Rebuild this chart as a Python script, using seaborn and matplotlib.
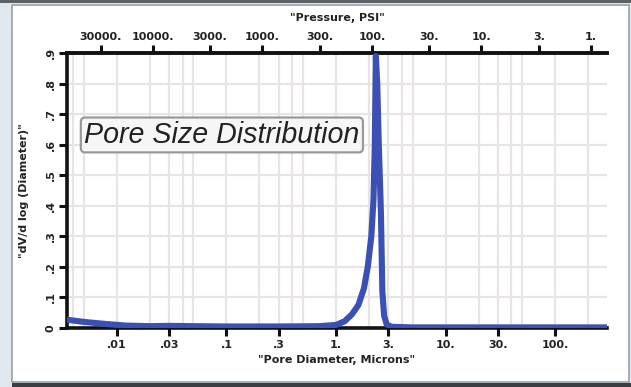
import numpy as np
import pandas as pd
import matplotlib
matplotlib.use("Agg")
import matplotlib.pyplot as plt
from matplotlib.patches import Rectangle
import seaborn as sns

# Pore size distribution (mercury intrusion)
pore_diameter_um = [0.0035, 0.005, 0.008, 0.012, 0.02, 0.03, 0.05, 0.1, 0.3, 0.7,
                    1.0, 1.2, 1.4, 1.6, 1.8, 1.95, 2.1, 2.2, 2.26, 2.31,
                    2.38, 2.45, 2.57, 2.65, 2.75, 2.9, 3.2, 5.0, 20.0, 100.0, 298.0]
dv_dlogd = [0.027, 0.020, 0.013, 0.008, 0.006, 0.007, 0.006, 0.005, 0.005, 0.006,
            0.010, 0.022, 0.045, 0.075, 0.13, 0.20, 0.30, 0.42, 0.60, 0.89,
            0.80, 0.62, 0.38, 0.12, 0.04, 0.012, 0.004, 0.002, 0.002, 0.002, 0.002]

diameter_ticks = [0.01, 0.03, 0.1, 0.3, 1, 3, 10, 30, 100]
diameter_labels = [".01", ".03", ".1", ".3", "1.", "3.", "10.", "30.", "100."]
pressure_ticks = [30000, 10000, 3000, 1000, 300, 100, 30, 10, 3, 1]
pressure_labels = ["30000.", "10000.", "3000.", "1000.", "300.", "100.", "30.", "10.", "3.", "1."]
y_ticks = [0, 0.1, 0.2, 0.3, 0.4, 0.5, 0.6, 0.7, 0.8, 0.9]
y_labels = ["0", ".1", ".2", ".3", ".4", ".5", ".6", ".7", ".8", ".9"]

# Washburn constant: D [microns] = K / P [psi]
WASHBURN_K = 213.0

sns.set_theme(style="white")
plt.rcParams["font.family"] = ["DejaVu Sans"]

fig = plt.figure(figsize=(6.31, 3.87), dpi=100)
fig.patch.set_facecolor("#dfe7ef")

# framed white panel
W, H = 631.0, 387.0
fig.patches.append(Rectangle((12 / W, 5 / H), 617 / W, 377 / H, transform=fig.transFigure,
                             facecolor="white", edgecolor="#9aa0a8", linewidth=1.2, zorder=-5))
fig.patches.append(Rectangle((0, 1 - 3 / H), 1, 3 / H, transform=fig.transFigure,
                             facecolor="#5c6168", edgecolor="none", zorder=-4))
fig.patches.append(Rectangle((12 / W, 0), 1 - 12 / W, 4 / H, transform=fig.transFigure,
                             facecolor="#3a3d42", edgecolor="none", zorder=-4))

ax = fig.add_axes([67 / W, 1 - 328 / H, 540 / W, 275 / H])
ax.set_facecolor("white")

df = pd.DataFrame({"diameter": pore_diameter_um, "dv": dv_dlogd})
sns.lineplot(data=df, x="diameter", y="dv", ax=ax, sort=False, estimator=None,
             color="#3b50b4", linewidth=4.4, solid_capstyle="round",
             solid_joinstyle="round", zorder=5)

ax.set_xscale("log")
ax.set_xlim(0.0035, 298)
ax.set_ylim(0, 0.9)

# grid at 1,2,3,4,5 x each decade
grid_x = [m * 10.0 ** e for e in range(-3, 3) for m in (1, 2, 3, 4, 5)]
for gx in grid_x:
    if 0.0035 < gx < 298:
        ax.axvline(gx, color="#e9e4e4", linewidth=1.6, zorder=0)
for gy in y_ticks[1:]:
    ax.axhline(gy, color="#e9e4e4", linewidth=1.6, zorder=0)

tick_font = dict(fontsize=8, fontweight="bold", color="#222222")

ax.set_xticks(diameter_ticks)
ax.set_xticklabels(diameter_labels, **tick_font)
ax.xaxis.set_minor_locator(matplotlib.ticker.NullLocator())
ax.set_yticks(y_ticks)
ax.set_yticklabels(y_labels, rotation=90, va="center", **tick_font)
ax.tick_params(axis="both", which="major", direction="out", length=6, width=2.2,
               color="#111111", pad=2)
ax.tick_params(axis="x", bottom=True, pad=3)
ax.tick_params(axis="y", left=True)

for side in ["left", "bottom", "top"]:
    ax.spines[side].set_visible(True)
    ax.spines[side].set_color("#111111")
    ax.spines[side].set_linewidth(2.6)
ax.spines["right"].set_visible(False)

ax.set_xlabel('"Pore Diameter, Microns"', fontsize=8, fontweight="bold",
              color="#222222", labelpad=3)
ax.set_ylabel('"dV/d log (Diameter)"', fontsize=8, fontweight="bold",
              color="#222222", labelpad=12)

# pressure axis on top
sec = ax.secondary_xaxis("top", functions=(lambda d: WASHBURN_K / d,
                                            lambda p: WASHBURN_K / p))
sec.set_xticks(pressure_ticks)
sec.set_xticklabels(pressure_labels, **tick_font)
sec.xaxis.set_minor_locator(matplotlib.ticker.NullLocator())
sec.tick_params(axis="x", which="major", direction="out", length=6, width=2.2,
                color="#111111", pad=2)
sec.spines["top"].set_linewidth(2.6)
sec.set_xlabel('"Pressure, PSI"', fontsize=8, fontweight="bold", color="#222222",
               labelpad=8)

ax.text(0.032, 0.702, "Pore Size Distribution", transform=ax.transAxes,
        fontsize=20.6, fontstyle="italic", color="#222222", va="center", ha="left",
        family="Liberation Sans", zorder=6,
        bbox=dict(boxstyle="round,pad=0.12,rounding_size=0.15", facecolor="#f6f6f6",
                  edgecolor="#999999", linewidth=1.6))

fig.savefig("out.png", dpi=100, facecolor=fig.get_facecolor())
